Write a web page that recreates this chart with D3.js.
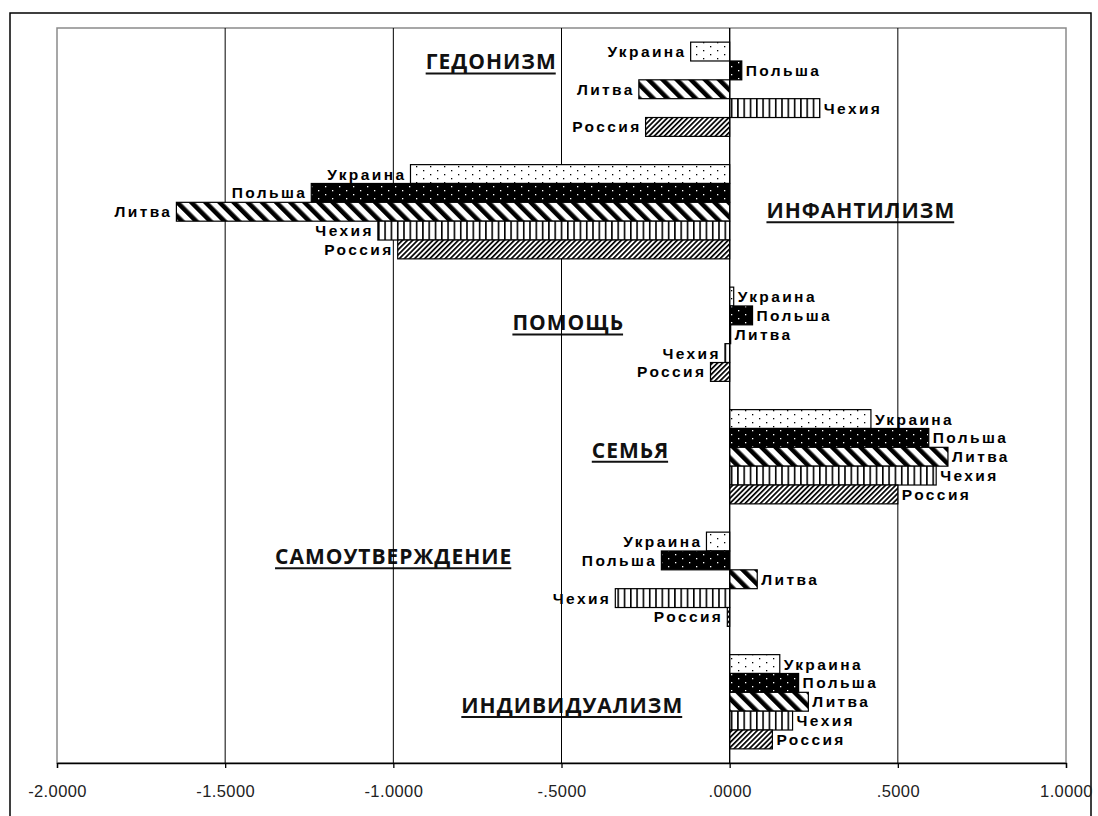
<!DOCTYPE html>
<html>
<head>
<meta charset="utf-8">
<script src="https://cdn.jsdelivr.net/npm/d3@7"></script>
<style>
  html, body { margin: 0; padding: 0; background: #fff; }
  svg { display: block; }
</style>
</head>
<body>
<svg id="chart" width="1098" height="816"></svg>
<script>
// ---- data ----
const categories = ["ГЕДОНИЗМ", "ИНФАНТИЛИЗМ", "ПОМОЩЬ", "СЕМЬЯ", "САМОУТВЕРЖДЕНИЕ", "ИНДИВИДУАЛИЗМ"];
const countries = ["Украина", "Польша", "Литва", "Чехия", "Россия"];
const ukraine   = [-0.116, -0.949,  0.012, 0.420, -0.069, 0.149];
const poland    = [ 0.036, -1.244,  0.068, 0.592, -0.203, 0.205];
const lithuania = [-0.270, -1.645,  0.003, 0.649,  0.082, 0.234];
const czech     = [ 0.268, -1.046, -0.014, 0.614, -0.340, 0.187];
const russia    = [-0.250, -0.987, -0.057, 0.500, -0.007, 0.127];
const xTicks = [-2, -1.5, -1, -0.5, 0, 0.5, 1];

const seriesValues = [ukraine, poland, lithuania, czech, russia];

// ---- layout (not data) ----
const plot = { left: 57, right: 1066, top: 28, bottom: 763 };
// category label anchors in data units: x value and fractional bar slot
const catLabelLayout = [
  { x: -0.709, slot: 0.55 },
  { x:  0.390, slot: 1.95 },
  { x: -0.480, slot: 1.40 },
  { x: -0.295, slot: 1.65 },
  { x: -0.999, slot: 0.80 },
  { x: -0.468, slot: 2.20 }
];

const svg = d3.select("#chart");
const defs = svg.append("defs");

function pat(id, w, h, transform, bg) {
  const p = defs.append("pattern").attr("id", id)
    .attr("patternUnits", "userSpaceOnUse").attr("width", w).attr("height", h);
  if (transform) p.attr("patternTransform", transform);
  p.append("rect").attr("width", w).attr("height", h).attr("fill", bg);
  return p;
}
let p0 = pat("p-ukr", 14, 8, null, "#fff");
p0.append("rect").attr("x", 3).attr("y", 2).attr("width", 1.3).attr("height", 1.3).attr("fill", "#000");
p0.append("rect").attr("x", 10).attr("y", 6).attr("width", 1.3).attr("height", 1.3).attr("fill", "#000");
let p1 = pat("p-pol", 14, 8, null, "#000");
p1.append("rect").attr("x", 3).attr("y", 2).attr("width", 1.3).attr("height", 1.3).attr("fill", "#fff");
p1.append("rect").attr("x", 10).attr("y", 6).attr("width", 1.3).attr("height", 1.3).attr("fill", "#fff");
let p2 = pat("p-lit", 10, 10, "rotate(-45)", "#fff");
p2.append("rect").attr("x", 0).attr("y", 0).attr("width", 4.6).attr("height", 10).attr("fill", "#000");
let p3 = pat("p-cze", 6.3, 10, null, "#fff");
p3.append("rect").attr("x", 0).attr("y", 0).attr("width", 1.6).attr("height", 10).attr("fill", "#000");
let p4 = pat("p-rus", 3.6, 10, "rotate(45)", "#fff");
p4.append("rect").attr("x", 0).attr("y", 0).attr("width", 1.7).attr("height", 10).attr("fill", "#000");
const fills = ["url(#p-ukr)", "url(#p-pol)", "url(#p-lit)", "url(#p-cze)", "url(#p-rus)"];

// scales
const x = d3.scaleLinear().domain([-2, 1]).range([plot.left, plot.right]);
const yCat = d3.scaleBand().domain(categories).range([plot.top, plot.bottom]).padding(0);
const ySer = d3.scaleBand().domain(countries).range([0, yCat.bandwidth()]).paddingInner(0).paddingOuter(0.75);

// outer frame
svg.append("rect").attr("x", 10).attr("y", 13).attr("width", 1081).attr("height", 820)
  .attr("fill", "none").attr("stroke", "#000").attr("stroke-width", 1.5);

// plot area border
svg.append("rect").attr("x", plot.left).attr("y", plot.top)
  .attr("width", plot.right - plot.left).attr("height", plot.bottom - plot.top)
  .attr("fill", "none").attr("stroke", "#8a8a8a").attr("stroke-width", 1.5);

// category labels
const catG = svg.append("g");
categories.forEach((c, i) => {
  const L = catLabelLayout[i];
  const cy = yCat(c) + ySer.step() * (0.75 + L.slot + 0.5);
  const t = catG.append("text")
    .attr("x", x(L.x)).attr("y", cy + 7.5)
    .attr("text-anchor", "middle")
    .attr("font-family", "'Open Sans', 'DejaVu Sans', sans-serif")
    .attr("font-weight", 700).attr("font-size", 21)
    .attr("letter-spacing", 1)
    .attr("fill", "#111")
    .text(c);
  const bb = t.node().getBBox();
  catG.append("line")
    .attr("x1", bb.x).attr("x2", bb.x + bb.width - 1)
    .attr("y1", cy + 11.5).attr("y2", cy + 11.5)
    .attr("stroke", "#111").attr("stroke-width", 2);
});

// gridlines
svg.append("g").selectAll("line").data(xTicks.filter(d => d > -2 && d < 1)).join("line")
  .attr("x1", d => x(d)).attr("x2", d => x(d))
  .attr("y1", plot.top).attr("y2", plot.bottom)
  .attr("stroke", "#000").attr("stroke-width", 1);

// x axis
const fmt = d => d3.format(".4f")(d).replace("−", "-").replace(/^(-?)0\./, "$1.");
const axis = svg.append("g").attr("transform", `translate(0,${plot.bottom})`)
  .call(d3.axisBottom(x).tickValues(xTicks).tickFormat(fmt).tickSize(5).tickPadding(17));
axis.attr("font-size", 17).attr("font-family", "'Liberation Sans', Arial, sans-serif");
axis.select(".domain").attr("stroke", "#000").attr("stroke-width", 1.3);
axis.selectAll(".tick line").attr("stroke", "#000").attr("stroke-width", 1.3);
axis.selectAll(".tick text")
  .attr("font-family", "'Liberation Sans', Arial, sans-serif")
  .attr("font-size", 16.5).attr("letter-spacing", 0.4).attr("fill", "#222");

// bars
const barData = [];
categories.forEach((c, ci) => {
  countries.forEach((s, si) => {
    barData.push({ cat: c, ser: s, si, value: seriesValues[si][ci] });
  });
});
svg.append("g").selectAll("rect").data(barData).join("rect")
  .attr("x", d => Math.min(x(0), x(d.value)))
  .attr("y", d => yCat(d.cat) + ySer(d.ser))
  .attr("width", d => Math.abs(x(d.value) - x(0)))
  .attr("height", ySer.bandwidth())
  .attr("fill", d => fills[d.si])
  .attr("stroke", "#000").attr("stroke-width", 1.2);

// zero line on top
svg.append("line").attr("x1", x(0)).attr("x2", x(0))
  .attr("y1", plot.top).attr("y2", plot.bottom)
  .attr("stroke", "#000").attr("stroke-width", 1.2);

// bar labels
svg.append("g").selectAll("text").data(barData).join("text")
  .attr("x", d => d.value >= 0 ? x(d.value) + 4 : x(d.value) - 4)
  .attr("y", d => yCat(d.cat) + ySer(d.ser) + ySer.bandwidth() / 2 + 5.5)
  .attr("text-anchor", d => d.value >= 0 ? "start" : "end")
  .attr("font-family", "'Liberation Sans', Arial, sans-serif")
  .attr("font-weight", 700).attr("font-size", 15.5)
  .attr("letter-spacing", 2.4)
  .attr("fill", "#000")
  .text(d => d.ser);
</script>
</body>
</html>
